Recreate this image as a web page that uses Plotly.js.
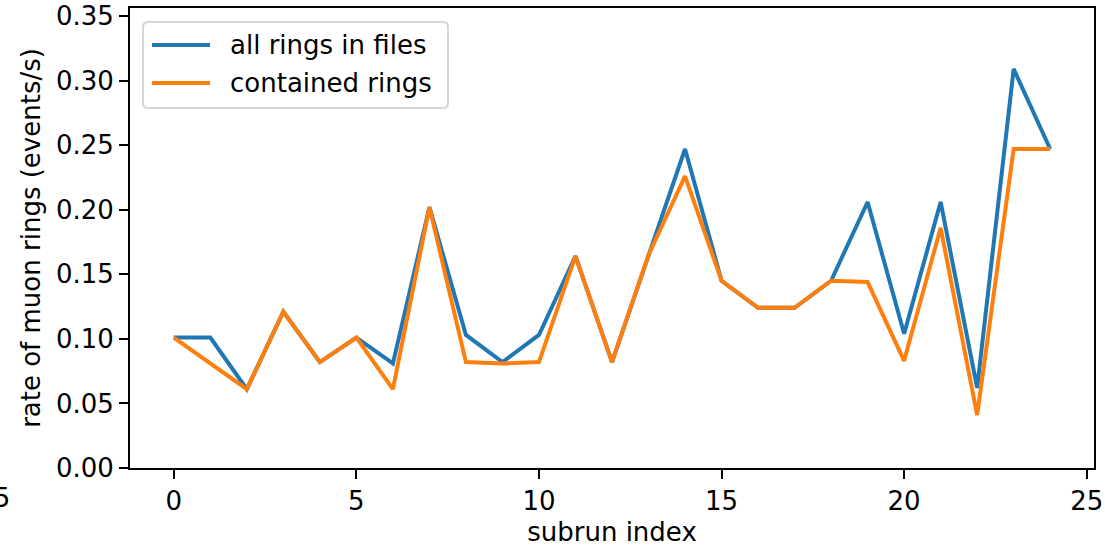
<!DOCTYPE html>
<html>
<head>
<meta charset="utf-8">
<script src="https://cdn.plot.ly/plotly-3.0.1.min.js"></script>
<style>html,body{margin:0;padding:0;background:#fff;}#chart{width:1105px;height:548px;}</style>
</head>
<body>
<div id="chart"></div>
<script>
const subrunIndex = [0,1,2,3,4,5,6,7,8,9,10,11,12,13,14,15,16,17,18,19,20,21,22,23,24];
const allRings = [0.101,0.101,0.061,0.121,0.082,0.101,0.081,0.202,0.103,0.082,0.103,0.164,0.082,0.165,0.247,0.145,0.124,0.124,0.145,0.206,0.104,0.206,0.062,0.309,0.247];
const containedRings = [0.101,0.081,0.061,0.121,0.082,0.101,0.061,0.202,0.082,0.081,0.082,0.164,0.082,0.165,0.226,0.145,0.124,0.124,0.145,0.144,0.083,0.186,0.041,0.247,0.247];
const seriesNames = ["all rings in files", "contained rings"];
const seriesColors = ["#1f77b4", "#ff7f0e"];
const xTicks = [0,5,10,15,20,25];
const yTicks = [0,0.05,0.10,0.15,0.20,0.25,0.30,0.35];

const FONT = "DejaVu Sans, sans-serif";
const W = 1105, H = 548;
const M = {l: 130, r: 11, t: 8, b: 80};
const PW = W - M.l - M.r, PH = H - M.t - M.b;
const xRange = [-1.2, 25.2];
const yRange = [0, 0.3562];

// helpers to convert pixel positions (page) to paper coords for the legend box
const px = x => (x - M.l) / PW;
const py = y => (H - M.b - y) / PH;

const traces = [
  {x: subrunIndex, y: allRings, name: seriesNames[0], mode: "lines", line: {color: seriesColors[0], width: 4}},
  {x: subrunIndex, y: containedRings, name: seriesNames[1], mode: "lines", line: {color: seriesColors[1], width: 4}}
];

// rounded legend frame
const bx0 = 143, bx1 = 448, by0 = 22, by1 = 108, rr = 5;
const framePath = [
  `M${px(bx0 + rr)},${py(by0)}`,
  `L${px(bx1 - rr)},${py(by0)}`,
  `Q${px(bx1)},${py(by0)} ${px(bx1)},${py(by0 + rr)}`,
  `L${px(bx1)},${py(by1 - rr)}`,
  `Q${px(bx1)},${py(by1)} ${px(bx1 - rr)},${py(by1)}`,
  `L${px(bx0 + rr)},${py(by1)}`,
  `Q${px(bx0)},${py(by1)} ${px(bx0)},${py(by1 - rr)}`,
  `L${px(bx0)},${py(by0 + rr)}`,
  `Q${px(bx0)},${py(by0)} ${px(bx0 + rr)},${py(by0)}`,
  "Z"
].join(" ");

const rowY = [45, 83];
const shapes = [
  {type: "path", xref: "paper", yref: "paper", path: framePath, fillcolor: "rgba(255,255,255,0.8)", line: {color: "#d6d6d6", width: 2}, layer: "above"}
];
const annotations = [];
seriesNames.forEach((name, i) => {
  shapes.push({type: "line", xref: "paper", yref: "paper", x0: px(152), x1: px(210), y0: py(rowY[i]), y1: py(rowY[i]), line: {color: seriesColors[i], width: 4}, layer: "above"});
  annotations.push({xref: "paper", yref: "paper", x: px(228), y: py(rowY[i]), text: name, showarrow: false, xanchor: "left", yanchor: "middle", font: {family: FONT, size: 26, color: "#000"}});
});
annotations.push({xref: "paper", yref: "paper", x: (-5 - xRange[0]) / (xRange[1] - xRange[0]), y: 0, yshift: -30,
  text: "\u22125", showarrow: false, xanchor: "center", yanchor: "middle", font: {family: FONT, size: 26, color: "#000"}});

const layout = {
  width: W, height: H,
  margin: M,
  paper_bgcolor: "#fff", plot_bgcolor: "#fff",
  font: {family: FONT, size: 26, color: "#000"},
  showlegend: false,
  xaxis: {
    range: xRange, tickvals: xTicks, ticktext: xTicks.map(String),
    showgrid: false, zeroline: false, showline: true, mirror: true, linecolor: "#000", linewidth: 2,
    ticks: "outside", ticklen: 9, tickwidth: 2, tickcolor: "#000",
    tickfont: {family: FONT, size: 26},
    title: {text: "subrun index", font: {family: FONT, size: 26}, standoff: 8}
  },
  yaxis: {
    range: yRange, tickvals: yTicks, ticktext: yTicks.map(v => v.toFixed(2)),
    showgrid: false, zeroline: false, showline: true, mirror: true, linecolor: "#000", linewidth: 2,
    ticks: "outside", ticklen: 9, tickwidth: 2, tickcolor: "#000",
    tickfont: {family: FONT, size: 26},
    title: {text: "rate of muon rings (events/s)", font: {family: FONT, size: 26}, standoff: 8}
  },
  shapes: shapes,
  annotations: annotations
};

Plotly.newPlot("chart", traces, layout, {displayModeBar: false, staticPlot: true});
</script>
</body>
</html>
